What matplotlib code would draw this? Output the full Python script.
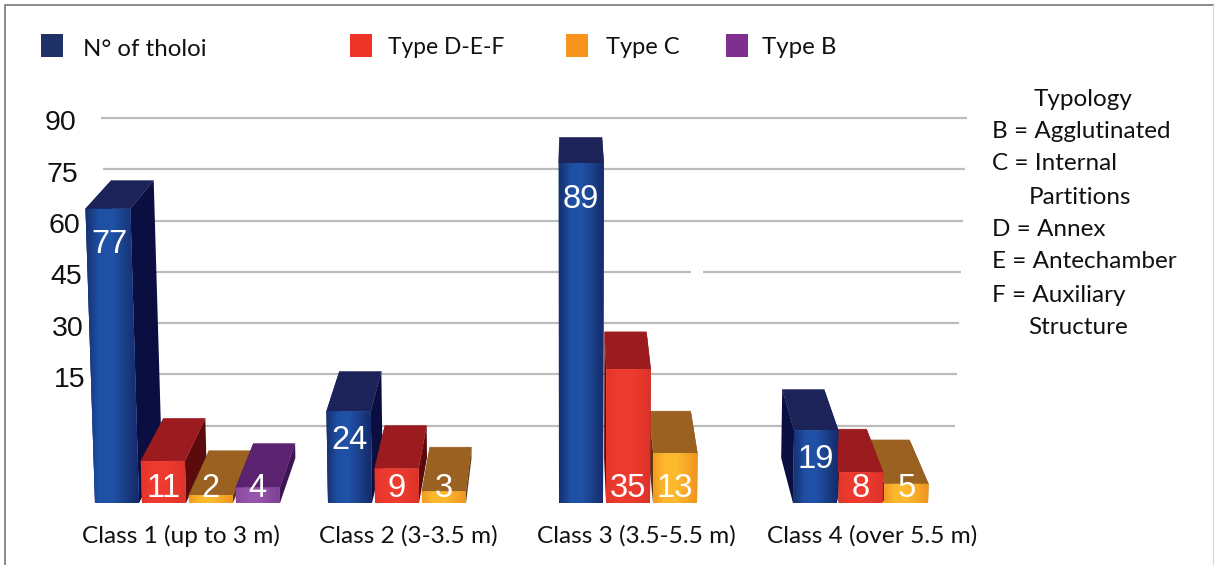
import numpy as np
import matplotlib
matplotlib.use("Agg")
import matplotlib.pyplot as plt
from matplotlib.colors import LinearSegmentedColormap
from matplotlib.patches import Rectangle
from matplotlib.lines import Line2D
from matplotlib.transforms import Affine2D

# ---- data ----
class_labels = ["Class 1 (up to 3 m)", "Class 2 (3-3.5 m)", "Class 3 (3.5-5.5 m)", "Class 4 (over 5.5 m)"]
tholoi = [77, 24, 89, 19]
type_def = [11, 9, 35, 8]
type_c = [2, 3, 13, 5]
type_b = [4, None, None, None]
axis_values = [90, 75, 60, 45, 30, 15]
legend_labels = ["N° of tholoi", "Type D-E-F", "Type C", "Type B"]
typology_lines = ["B = Agglutinated", "C = Internal", "Partitions", "D = Annex",
                  "E = Antechamber", "F = Auxiliary", "Structure"]

# ---- layout ----
W, H = 1214, 565
BASE_PX = 503
PX_PER_UNIT = 3.82
group_start = [95, 328, 559, 793]
group_step = [47, 47, 47, 45.5]
group_centers = [180.5, 408, 636.5, 872]
BAR_W = 44
VP_X, VP_V = 570, 207      # vanishing point of the depth edges
T_X, T_V = 0.053, 0.057    # depth foreshortening
LEAN = 0.00026             # bars converge slightly downwards
WALL_ZERO = (BASE_PX - 425.7) / PX_PER_UNIT
WALL_SCALE = (51.3 / 15) / PX_PER_UNIT

series = [
    dict(vals=tholoi, top="#1b2359", side="#0a0e40", front=["#16306e", "#1e4fa3", "#2052a8", "#1a3f86", "#14296a"]),
    dict(vals=type_def, top="#9c1b1f", side="#5c0b0d", front=["#e3352b", "#ef3b2f", "#ef3b30", "#e8382c", "#d9322a"]),
    dict(vals=type_c, top="#9a6120", side="#5c3610", front=["#f29a22", "#fdb92e", "#fdbb2f", "#f8a827", "#ee9320"]),
    dict(vals=type_b, top="#5b2270", side="#3d1552", front=["#8a4a9f", "#9555aa", "#9555aa", "#8a4a9f", "#7d3f93"]),
]

plt.rcParams["font.family"] = ["Lato", "DejaVu Sans"]
fig = plt.figure(figsize=(W / 100, H / 100), dpi=100, facecolor="white")
ax = fig.add_axes([0, (H - BASE_PX) / H, 1, BASE_PX / H])
ax.set_xlim(0, W)
ax.set_ylim(0, BASE_PX / PX_PER_UNIT)
ax.patch.set_alpha(0)
for s in ax.spines.values():
    s.set_visible(False)
px = Affine2D().scale(1, -1).translate(0, H)   # pixel coordinates, origin top-left


def front_pt(x, v):
    return x + (x - VP_X) * LEAN * v, v


def back_pt(x, v):
    fx, fv = front_pt(x, v)
    return fx + T_X * (VP_X - fx), fv + T_V * (VP_V - fv)


def wall(v):
    return WALL_ZERO + WALL_SCALE * v


# ---- back wall lines ----
GRID = "#bcbcbc"
for v in axis_values + [0]:
    x0 = 101 + (90 - v) * 0.13
    x1 = 967 - (90 - v) * 0.13
    if v == 45:
        segments = [(x0, 691), (703, x1)]
    else:
        segments = [(x0, x1)]
    for a, b in segments:
        ax.plot([a, b], [wall(v), wall(v)], color=GRID, lw=1.6, zorder=1, solid_capstyle="butt")

for v in axis_values:
    ax.text(86 + (15 - v) * 0.133, wall(v) - 5.5 / PX_PER_UNIT, str(v), ha="right", va="center",
            family="Liberation Sans", fontsize=20.5, color="#111111", zorder=1)

# ---- bars, painted from the outside towards the vanishing point ----
bars = []
for si, s in enumerate(series):
    for gi, v in enumerate(s["vals"]):
        if v is not None:
            bars.append((group_start[gi] + si * group_step[gi], v, si))
bars.sort(key=lambda b: -abs(b[0] + BAR_W / 2 - VP_X))

z = 2
for x, v, si in bars:
    s = series[si]
    x2 = x + BAR_W
    for edge in (x, x2):
        pts = [front_pt(edge, 0), front_pt(edge, v), back_pt(edge, v), back_pt(edge, 0)]
        ax.fill(*zip(*pts), color=s["side"], lw=0, zorder=z)
    pts = [front_pt(x, v), front_pt(x2, v), back_pt(x2, v), back_pt(x, v)]
    ax.fill(*zip(*pts), color=s["top"], lw=0.3, zorder=z + 0.1)
    pts = [front_pt(x, 0), front_pt(x2, 0), front_pt(x2, v), front_pt(x, v)]
    poly = ax.fill(*zip(*pts), color=s["front"][1], lw=0, zorder=z + 0.2)[0]
    xs = [p[0] for p in pts]
    cmap = LinearSegmentedColormap.from_list("face", s["front"])
    img = ax.imshow(np.linspace(0, 1, 64)[None, :], cmap=cmap, aspect="auto",
                    extent=(min(xs), max(xs), 0, v), zorder=z + 0.3)
    img.set_clip_path(poly)
    # value label: near the top on the tall bars, near the base on the others
    if si == 0:
        ly = v - (27 + 0.11 * v) / PX_PER_UNIT
    else:
        ly = (BASE_PX - 488.5) / PX_PER_UNIT
    lx = (x + x2) / 2 + (x + BAR_W / 2 - VP_X) * LEAN * ly
    ax.text(lx, ly, str(v), ha="center", va="center", family="Liberation Sans",
            fontsize=23.5, color="white", zorder=50)
    z += 1

ax.set_xlim(0, W)
ax.set_ylim(0, BASE_PX / PX_PER_UNIT)

# ---- category axis ----
ax.set_yticks([])
ax.set_xticks(group_centers)
ax.set_xticklabels(class_labels, fontsize=17.6, color="#111111")
ax.tick_params(axis="x", length=0, pad=16)

# ---- legend ----
swatches = [(41, "#1f3067"), (350, "#ee3327"), (566, "#f7941e"), (726, "#7f2f8f")]
text_x = [83, 388, 606, 762]
text_y = [49, 47, 47, 47]
text_size = [17.3, 16.4, 17, 17.3]
for (sx, c), lab, tx, ty, ts in zip(swatches, legend_labels, text_x, text_y, text_size):
    fig.add_artist(Rectangle((sx, 34), 22, 23, transform=px, facecolor=c, edgecolor="none"))
    fig.text(tx, ty, lab, transform=px, ha="left", va="center", fontsize=ts, color="#111111")

# ---- typology key ----
fig.text(1083, 99, "Typology", transform=px, ha="center", va="center", fontsize=17.5, color="#111111")
key_x = [992, 992, 1029, 992, 992, 992, 1028]
key_y = [132, 164, 197, 230, 262, 295, 328]
for lab, kx, ky in zip(typology_lines, key_x, key_y):
    fig.text(kx, ky, lab, transform=px, ha="left", va="center", fontsize=17.5, color="#111111")

# ---- page frame ----
fig.add_artist(Line2D([5, 5, W], [H, 5, 5], transform=px, color="#777777", lw=1.2))
fig.add_artist(Line2D([W - 1, W - 1], [5, H], transform=px, color="#d5d5d5", lw=0.8))

fig.savefig("out.png", dpi=100, facecolor="white")
